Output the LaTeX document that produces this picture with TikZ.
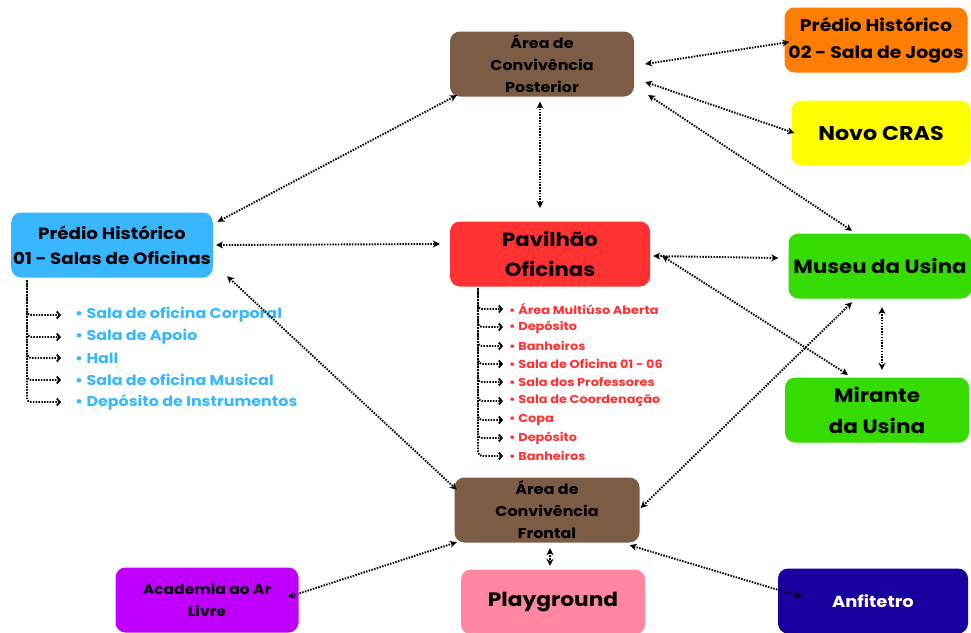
\documentclass[tikz,border=0pt]{standalone}
\usepackage{fontspec}
\setmainfont{Poppins}[FakeStretch=1.12]
\usepackage{tikz}
\usetikzlibrary{arrows.meta,positioning}

\definecolor{brownbox}{HTML}{7D5C46}
\definecolor{orangebox}{HTML}{FF7D00}
\definecolor{yellowbox}{HTML}{FFFF00}
\definecolor{bluebox}{HTML}{38B6FF}
\definecolor{redbox}{HTML}{FF3131}
\definecolor{greenbox}{HTML}{36DC00}
\definecolor{purplebox}{HTML}{C000FF}
\definecolor{pinkbox}{HTML}{FF87A0}
\definecolor{navybox}{HTML}{1B00A0}

\tikzset{
    area/.style={rounded corners=10pt, minimum width=#1, minimum height=65pt, align=center, inner sep=2pt},
    area/.default={184pt},
    link/.style={line width=1.9pt, dash pattern=on 1.5pt off 1.3pt, {Stealth[length=7pt,width=7pt]}-{Stealth[length=7pt,width=7pt]}},
    treelink/.style={line width=1.9pt, dash pattern=on 1.5pt off 1.3pt, rounded corners=4pt, -{Straight Barb[length=3pt,width=7pt,line width=1.8pt]}},
    blueitem/.style={anchor=west, inner sep=0pt, text=bluebox, font=\fontsize{14.2}{16}\selectfont\bfseries},
    reditem/.style={anchor=west, inner sep=0pt, text=redbox, font=\fontsize{11.5}{13}\selectfont\bfseries}
}

\begin{document}
\begin{tikzpicture}[x=1pt, y=-1pt]
    \useasboundingbox (0,0) rectangle (971,632);

    % Main areas
    \node[area, fill=brownbox, font=\fontsize{14.2}{22}\selectfont\bfseries] (posterior) at (542,64) {Área de\\Convivência\\Posterior};
    \node[area=183pt, fill=orangebox, font=\fontsize{16.8}{27}\selectfont\bfseries] (ph02) at (876,40) {Prédio Histórico\\02 - Sala de Jogos};
    \node[area=179pt, fill=yellowbox, font=\fontsize{19.9}{24}\selectfont\bfseries] (cras) at (881,133) {Novo CRAS};
    \node[area=201pt, fill=bluebox, font=\fontsize{16.3}{25}\selectfont\bfseries] (ph01) at (112,245) {Prédio Histórico\\01 - Salas de Oficinas};
    \node[area=200pt, fill=redbox, font=\fontsize{19}{30}\selectfont\bfseries] (pavilhao) at (550,254) {Pavilhão\\Oficinas};
    \node[area=183pt, fill=greenbox, font=\fontsize{19}{24}\selectfont\bfseries] (museu) at (880,266) {Museu da Usina};
    \node[area=184pt, fill=greenbox, font=\fontsize{19.2}{31}\selectfont\bfseries] (mirante) at (877,410) {Mirante\\da Usina};
    \node[area=185pt, fill=brownbox, font=\fontsize{14.2}{22}\selectfont\bfseries] (frontal) at (547,510) {Área de\\Convivência\\Frontal};
    \node[area=183pt, fill=purplebox, font=\fontsize{13.9}{22}\selectfont\bfseries] (academia) at (207,600) {Academia ao Ar\\Livre};
    \node[area=184pt, fill=pinkbox, font=\fontsize{19.4}{24}\selectfont\bfseries] (playground) at (553,602) {Playground};
    \node[area=190pt, fill=navybox, text=white, font=\fontsize{16}{24}\selectfont\bfseries] (anfiteatro) at (873,601) {Anfitetro};

    % Rooms of Predio Historico 01
    \node[blueitem] (b1) at (75,315) {• Sala de oficina Corporal};
    \node[blueitem] (b2) at (75,337) {• Sala de Apoio};
    \node[blueitem] (b3) at (75,358) {• Hall};
    \node[blueitem] (b4) at (75,380) {• Sala de oficina Musical};
    \node[blueitem] (b5) at (75,402) {• Depósito de Instrumentos};
    \coordinate (broot) at (27,280);
    \foreach \i in {1,...,5}
        \draw[treelink] (broot) |- ([xshift=-14pt]b\i.west);

    % Rooms of Pavilhao Oficinas
    \node[reditem] (r1) at (509,309) {• Área Multiúso Aberta};
    \node[reditem] (r2) at (509,327) {• Depósito};
    \node[reditem] (r3) at (509,346) {• Banheiros};
    \node[reditem] (r4) at (509,364) {• Sala de Oficina 01 - 06};
    \node[reditem] (r5) at (509,382) {• Sala dos Professores};
    \node[reditem] (r6) at (509,401) {• Sala de Coordenação};
    \node[reditem] (r7) at (509,420) {• Copa};
    \node[reditem] (r8) at (509,438) {• Depósito};
    \node[reditem] (r9) at (509,456) {• Banheiros};
    \coordinate (rroot) at (478,288);
    \foreach \i in {1,...,9}
        \draw[treelink] (rroot) |- ([xshift=-6pt]r\i.west);

    % Connections
    \draw[link] ([xshift=7pt,yshift=1.5pt]posterior.south west) -- ([xshift=4.5pt,yshift=-9.5pt]ph01.north east);
    \draw[link] ([xshift=-2pt,yshift=-5pt]posterior.south) -- ([xshift=-10pt,yshift=13.5pt]pavilhao.north);
    \draw[link] ([xshift=11pt]posterior.east) -- ([xshift=5pt,yshift=-2pt]ph02.west);
    \draw[link] ([xshift=11pt,yshift=-18pt]posterior.east) -- ([xshift=3pt]cras.west);
    \draw[link] ([xshift=14pt,yshift=-31pt]posterior.east) -- ([xshift=-28pt,yshift=2.5pt]museu.north);
    \draw[link] ([xshift=3pt]ph01.east) -- ([xshift=-10pt,yshift=10pt]pavilhao.west);
    \draw[link] ([xshift=14pt,yshift=1.5pt]ph01.south east) -- ([xshift=2.5pt,yshift=-12.5pt]frontal.north west);
    \draw[link] ([xshift=3pt,yshift=-2pt]pavilhao.east) -- ([xshift=-10pt,yshift=8pt]museu.west);
    \draw[link] ([xshift=12pt,yshift=-2pt]pavilhao.east) -- ([xshift=-29pt,yshift=2.5pt]mirante.north);
    \draw[link] ([xshift=-28pt,yshift=-3.5pt]museu.south) -- ([xshift=1pt,yshift=2pt]frontal.east);
    \draw[link] ([xshift=2pt,yshift=-8.5pt]museu.south) -- ([xshift=5pt,yshift=7.5pt]mirante.north);
    \draw[link] ([xshift=2.5pt,yshift=0.5pt]frontal.south west) -- ([xshift=-10.5pt,yshift=3pt]academia.east);
    \draw[link] ([xshift=3pt,yshift=-5.5pt]frontal.south) -- ([xshift=-3pt,yshift=3.5pt]playground.north);
    \draw[link] ([xshift=-10pt,yshift=-2.5pt]frontal.south east) -- ([xshift=24pt,yshift=4pt]anfiteatro.west);
\end{tikzpicture}
\end{document}
